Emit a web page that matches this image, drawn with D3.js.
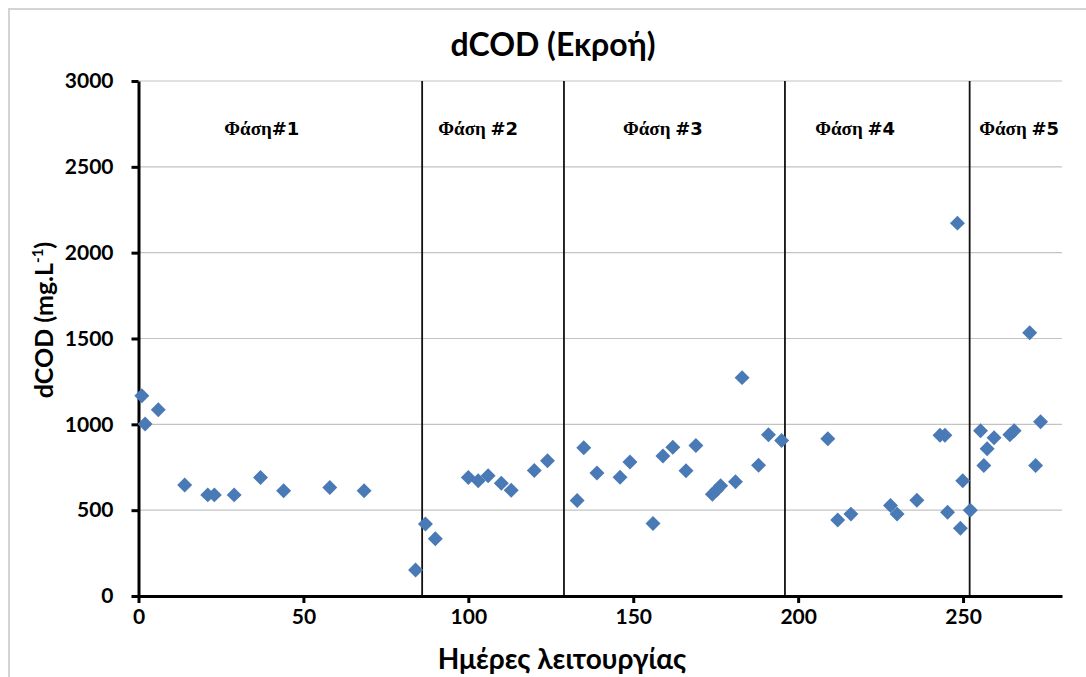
<!DOCTYPE html>
<html>
<head>
<meta charset="utf-8">
<script src="https://cdn.jsdelivr.net/npm/d3@7"></script>
<style>
  body { margin: 0; background: #fff; }
  svg { display: block; }
</style>
</head>
<body>
<svg></svg>
<script>
var width = 1086,
    height = 677,
    margin = {
        top: 81,
        bottom: 81,
        left: 138.5,
        right: 24
    }

// operating days and effluent dCOD values
var days = [1, 2, 6, 14, 21, 23, 29, 37, 44, 58, 68.4,
    84, 87, 90, 100, 103, 106, 110, 113, 120, 124,
    133, 135, 139, 146, 149, 156, 159, 162, 166, 169, 174, 175.3, 176.5, 181, 183, 188, 191, 195,
    209, 212, 216, 228, 230, 236, 243, 244.5, 245.3, 248.3, 249.2, 249.9,
    252.2, 255.3, 256.3, 257.3, 259.4, 264.2, 265.5, 270.2, 272, 273.5]
var dcod = [1167, 1002, 1085, 646, 589, 589, 589, 690, 613, 632, 613,
    152, 420, 334, 690, 671, 700, 657, 616, 731, 788,
    556, 863, 717, 692, 780, 422, 815, 867, 729, 877, 593, 618, 642, 665, 1272, 762, 939, 906,
    916, 443, 477, 527, 477, 558, 937, 937, 488, 2172, 395, 671,
    500, 963, 760, 858, 922, 939, 963, 1534, 760, 1015]

var phaseBounds = [86, 129, 196, 252]
var phaseNames = ["Φάση", "Φάση ", "Φάση ", "Φάση ", "Φάση "]
var phaseNums = ["#1", "#2", "#3", "#4", "#5"]
var phaseLabelDays = [37.4, 103, 159, 217.3, 267]

var xTicks = [0, 50, 100, 150, 200, 250]
var yTicks = [0, 500, 1000, 1500, 2000, 2500, 3000]

var points = days.map(function(d, i) {
    return { day: d, value: dcod[i] }
})

var svg = d3.select("svg")
    .attr("width", width)
    .attr("height", height)

// outer frame
svg.append("rect")
    .attr("x", 9).attr("y", 9)
    .attr("width", width + 20).attr("height", height + 20)
    .attr("fill", "#fff")
    .attr("stroke", "#d4d4d4")
    .attr("stroke-width", 2)

var xScale = d3.scaleLinear().domain([0, 280]).range([margin.left, width - margin.right])
var yScale = d3.scaleLinear().domain([0, 3000]).range([height - margin.bottom, margin.top])

// gridlines
svg.append("g")
    .selectAll("line")
    .data(yTicks.slice(1))
    .enter()
    .append("line")
    .attr("x1", xScale(0))
    .attr("x2", xScale(280))
    .attr("y1", function(d) { return yScale(d) })
    .attr("y2", function(d) { return yScale(d) })
    .attr("stroke", "#c3c3c3")
    .attr("stroke-width", 1.2)

// phase separators
svg.append("g")
    .selectAll("line")
    .data(phaseBounds)
    .enter()
    .append("line")
    .attr("x1", function(d) { return xScale(d) })
    .attr("x2", function(d) { return xScale(d) })
    .attr("y1", yScale(3000))
    .attr("y2", yScale(0))
    .attr("stroke", "#111")
    .attr("stroke-width", 1.8)

var labels = svg.append("g")
    .selectAll("text")
    .data(phaseNames)
    .enter()
    .append("text")
    .attr("x", function(d, i) { return xScale(phaseLabelDays[i]) })
    .attr("y", 135)
    .attr("text-anchor", "middle")
    .attr("font-weight", "bold")
    .attr("fill", "#000")
labels.append("tspan")
    .attr("font-family", "Liberation Serif, serif")
    .attr("font-size", 19)
    .text(function(d) { return d })
labels.append("tspan")
    .attr("font-family", "DejaVu Sans, sans-serif")
    .attr("font-size", 18)
    .text(function(d, i) { return phaseNums[i] })

// axes
var xAxis = svg.append("g")
    .attr("transform", "translate(0," + yScale(0) + ")")
    .call(d3.axisBottom(xScale).tickValues(xTicks).tickFormat(d3.format("d"))
        .tickSize(7).tickSizeOuter(0).tickPadding(6))
var yAxis = svg.append("g")
    .attr("transform", "translate(" + xScale(0) + ",0)")
    .call(d3.axisLeft(yScale).tickValues(yTicks).tickFormat(d3.format("d"))
        .tickSize(7).tickSizeOuter(0).tickPadding(18))

;[xAxis, yAxis].forEach(function(a) {
    a.select(".domain").attr("stroke", "#000").attr("stroke-width", 3)
    a.selectAll(".tick line").attr("stroke", "#000").attr("stroke-width", 3)
    a.selectAll(".tick text")
        .attr("fill", "#000")
        .attr("font-family", "Lato, sans-serif")
        .attr("font-weight", "bold")
        .attr("font-size", 21)
})

// points
var diamond = d3.symbol().type(d3.symbolSquare).size(112)
svg.append("g")
    .selectAll("path")
    .data(points)
    .enter()
    .append("path")
    .attr("d", diamond)
    .attr("transform", function(d) {
        return "translate(" + xScale(d.day) + "," + yScale(d.value) + ") rotate(45)"
    })
    .attr("fill", "#4a7ab5")

// titles
svg.append("text")
    .attr("x", 553)
    .attr("y", 56)
    .attr("text-anchor", "middle")
    .attr("font-family", "Lato, sans-serif")
    .attr("font-weight", "bold")
    .attr("font-size", 32)
    .text("dCOD (Εκροή)")

svg.append("text")
    .attr("x", 562)
    .attr("y", 669)
    .attr("text-anchor", "middle")
    .attr("font-family", "Lato, sans-serif")
    .attr("font-weight", "bold")
    .attr("font-size", 28)
    .text("Ημέρες λειτουργίας")

var yl = svg.append("text")
    .attr("transform", "translate(53,320) rotate(-90)")
    .attr("text-anchor", "middle")
    .attr("font-family", "Lato, sans-serif")
    .attr("font-weight", "bold")
    .attr("font-size", 25)
yl.append("tspan").text("dCOD (mg.L")
yl.append("tspan").attr("font-size", 15).attr("dy", -10).text("-1")
yl.append("tspan").attr("dy", 10).text(")")
</script>
</body>
</html>
